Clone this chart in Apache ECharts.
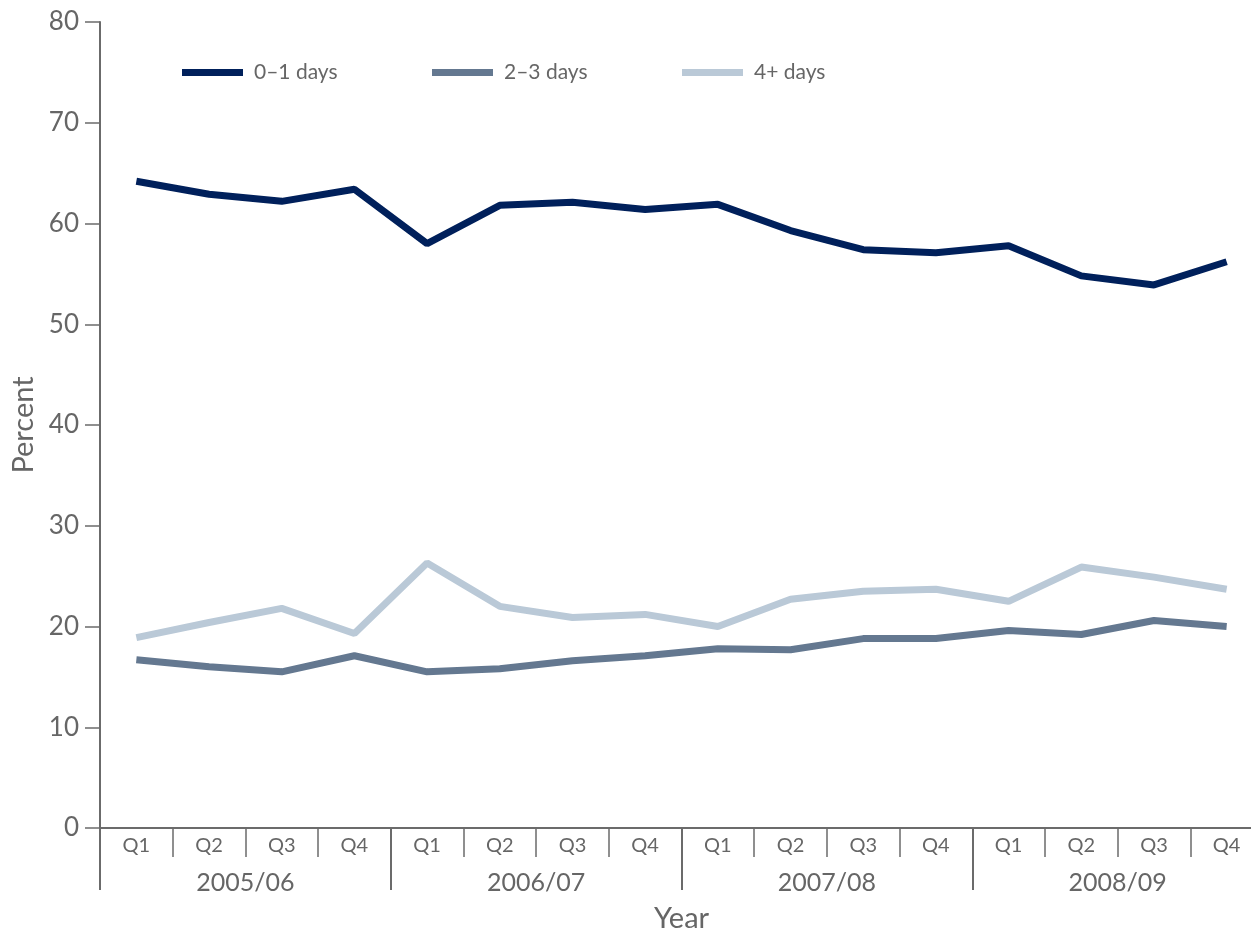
<!DOCTYPE html>
<html>
<head>
<meta charset="utf-8">
<script src="https://cdn.jsdelivr.net/npm/echarts@6/dist/echarts.min.js"></script>
<style>
html,body{margin:0;padding:0;background:#fff;}
#chart{width:1251px;height:931px;}
</style>
</head>
<body>
<div id="chart"></div>
<script>
const quarters = ['Q1','Q2','Q3','Q4','Q1','Q2','Q3','Q4','Q1','Q2','Q3','Q4','Q1','Q2','Q3','Q4'];
const years = ['2005/06','2006/07','2007/08','2008/09'];
const days01 = [64.2,62.9,62.2,63.4,58.0,61.8,62.1,61.4,61.9,59.3,57.4,57.1,57.8,54.8,53.9,56.2];
const days23 = [16.7,16.0,15.5,17.1,15.5,15.8,16.6,17.1,17.8,17.7,18.8,18.8,19.6,19.2,20.6,20.0];
const days4p = [18.9,20.4,21.8,19.3,26.3,22.0,20.9,21.2,20.0,22.7,23.5,23.7,22.5,25.9,24.9,23.7];
const yTicks = [0,10,20,30,40,50,60,70,80];

const axisColor = '#6b6b6b';
const textColor = '#666666';
const font = 'Lato, "Open Sans", sans-serif';
const colors = ['#00205b','#647890','#bac9d7'];
const names = ['0–1 days','2–3 days','4+ days'];

const chart = echarts.init(document.getElementById('chart'), null, {renderer:'canvas'});
const mkLegend = (i, left) => ({
  data: [names[i]], left: left, top: 62, padding: 0, icon: 'rect', itemWidth: 61, itemHeight: 7, itemGap: 0,
  textStyle: {color: textColor, fontSize: 21, fontFamily: font, padding: [0,0,0,6]}
});
chart.setOption({
  animation: false,
  color: colors,
  legend: [mkLegend(0,182), mkLegend(1,432), mkLegend(2,682)],
  grid: {left: 100, top: 22, right: -12, bottom: 103, containLabel: false, outerBoundsMode: 'none'},
  xAxis: [
    {
      type: 'category', data: quarters, boundaryGap: true, position: 'bottom',
      axisLine: {show: true, lineStyle: {color: axisColor, width: 2}},
      axisTick: {show: true, interval: 0, length: 29, lineStyle: {color: axisColor, width: 1.5}},
      axisLabel: {interval: 0, margin: 8, color: textColor, fontSize: 20, fontFamily: font},
      splitLine: {show: false}
    },
    {
      type: 'category', data: years, boundaryGap: true, position: 'bottom', offset: 0,
      axisLine: {show: false},
      axisTick: {show: true, interval: 0, length: 62, lineStyle: {color: axisColor, width: 2}},
      axisLabel: {interval: 0, margin: 42, color: textColor, fontSize: 25, fontFamily: font},
      name: 'Year', nameLocation: 'middle', nameGap: 76,
      nameTextStyle: {color: textColor, fontSize: 29, fontFamily: font},
      splitLine: {show: false}
    }
  ],
  yAxis: {
    type: 'value', min: 0, max: 80, interval: 10,
    name: 'Percent', nameLocation: 'middle', nameGap: 60, nameRotate: 90,
    nameTextStyle: {color: textColor, fontSize: 29, fontFamily: font},
    axisLine: {show: true, lineStyle: {color: axisColor, width: 2}},
    axisTick: {show: true, length: 15, lineStyle: {color: axisColor, width: 1.5}},
    axisLabel: {margin: 21, color: textColor, fontSize: 26, fontFamily: font,
      formatter: v => yTicks.includes(v) ? String(v) : ''},
    splitLine: {show: false}
  },
  series: [
    {name: names[0], type: 'line', data: days01, showSymbol: false, symbol: 'none', lineStyle: {width: 7}},
    {name: names[1], type: 'line', data: days23, showSymbol: false, symbol: 'none', lineStyle: {width: 7}},
    {name: names[2], type: 'line', data: days4p, showSymbol: false, symbol: 'none', lineStyle: {width: 7}}
  ]
});
</script>
</body>
</html>
